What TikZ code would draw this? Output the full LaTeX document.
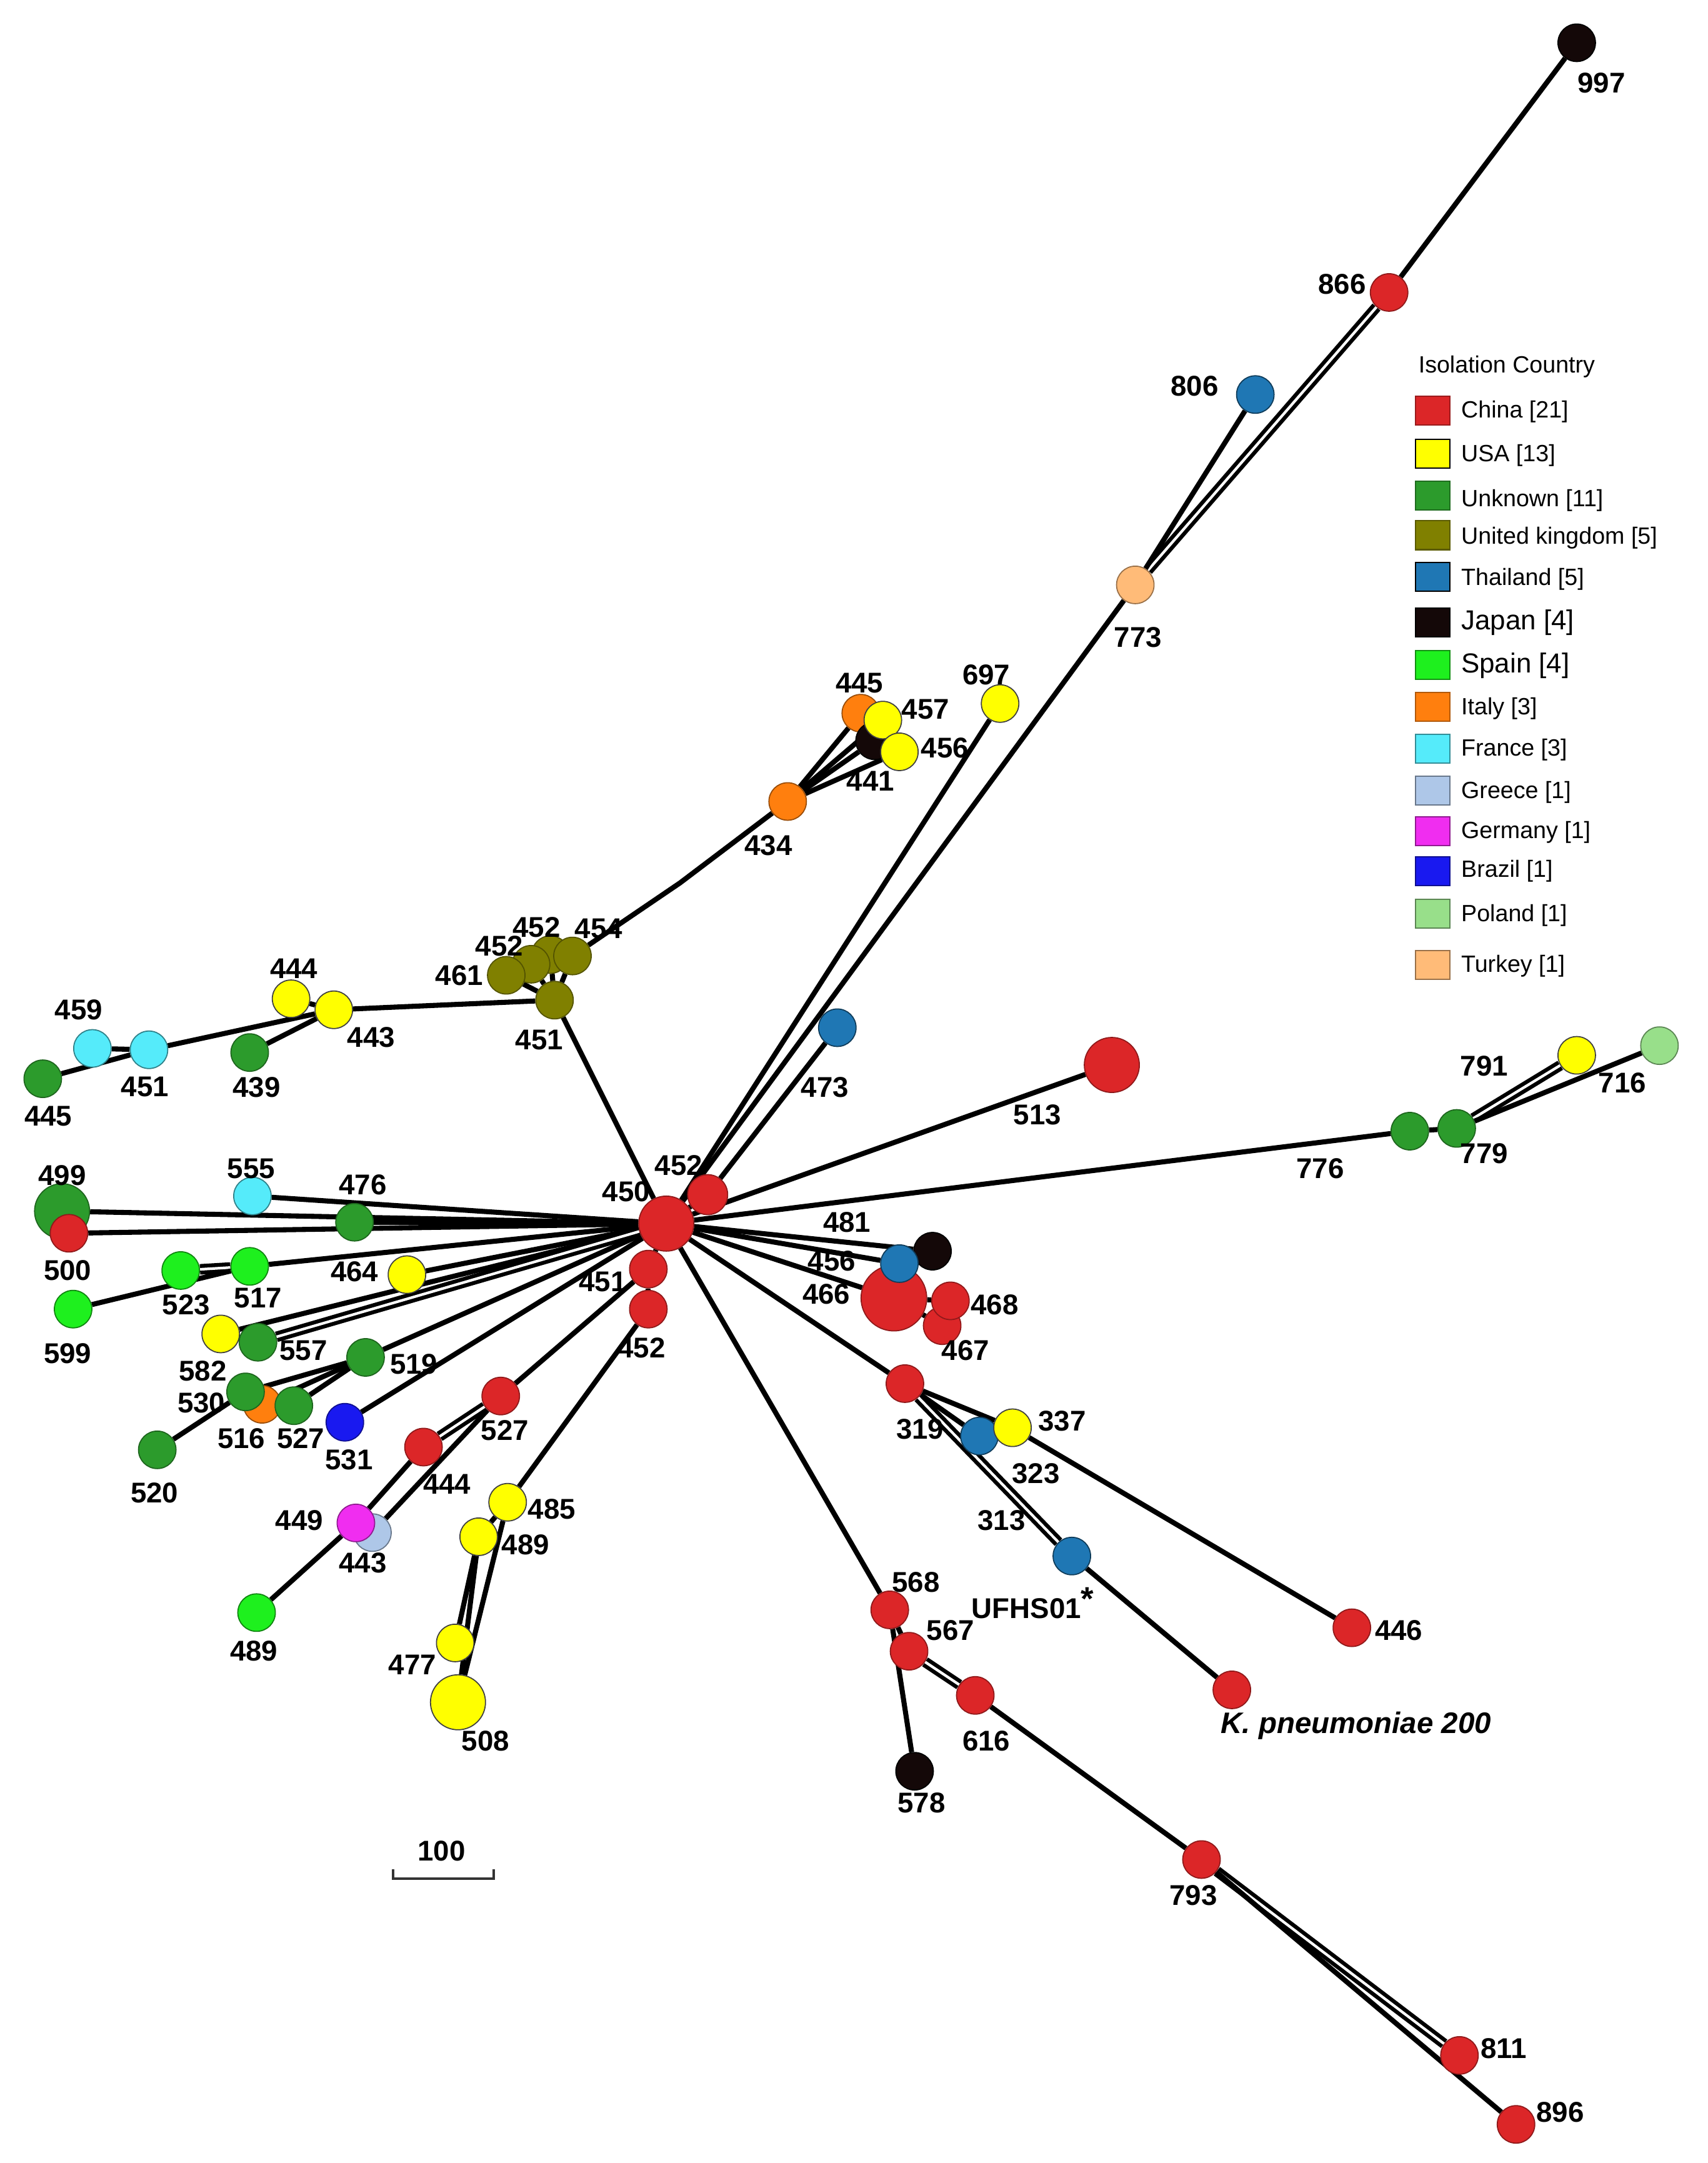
\documentclass[tikz,border=0pt]{standalone}
\usepackage{fontspec}
\setmainfont{Liberation Sans}
\usetikzlibrary{backgrounds}
\definecolor{cnred}{RGB}{220,38,40}
\definecolor{usay}{RGB}{255,255,0}
\definecolor{unkg}{RGB}{44,155,44}
\definecolor{ukol}{RGB}{128,128,0}
\definecolor{thb}{RGB}{31,119,180}
\definecolor{jpk}{RGB}{20,8,8}
\definecolor{esg}{RGB}{30,240,30}
\definecolor{ito}{RGB}{255,127,14}
\definecolor{frc}{RGB}{85,235,250}
\definecolor{grb}{RGB}{174,199,232}
\definecolor{dem}{RGB}{240,45,240}
\definecolor{brb}{RGB}{25,25,240}
\definecolor{plg}{RGB}{152,223,138}
\definecolor{trp}{RGB}{255,187,120}
\tikzset{
 nd/.style={circle, inner sep=0pt, minimum size=0.6cm, line width=0.5pt},
 bigN/.style={minimum size=0.88cm},
 midN/.style={minimum size=0.64cm},
 hugeN/.style={minimum size=1.05cm},
 cCN/.style={nd, fill=cnred, draw=cnred!65!black},
 cUS/.style={nd, fill=usay, draw=black!75},
 cUN/.style={nd, fill=unkg, draw=unkg!65!black},
 cUK/.style={nd, fill=ukol, draw=ukol!65!black},
 cTH/.style={nd, fill=thb, draw=thb!50!black},
 cJP/.style={nd, fill=jpk, draw=black},
 cES/.style={nd, fill=esg, draw=esg!55!black},
 cIT/.style={nd, fill=ito, draw=ito!60!black},
 cFR/.style={nd, fill=frc, draw=frc!55!black},
 cGR/.style={nd, fill=grb, draw=grb!60!black},
 cDE/.style={nd, fill=dem, draw=dem!60!black},
 cBR/.style={nd, fill=brb, draw=brb!60!black},
 cPL/.style={nd, fill=plg, draw=plg!60!black},
 cTR/.style={nd, fill=trp, draw=trp!60!black},
 lab/.style={inner sep=0pt, font=\fontsize{13}{15}\selectfont\bfseries},
 lnk/.style={line width=2.3pt, black},
 dbl/.style={line width=1.8pt, double=white, double distance=1.2pt},
 swatch/.style={rectangle, inner sep=0pt, minimum width=0.55cm, minimum height=0.46cm, line width=0.6pt},
 legt/.style={inner sep=0pt, anchor=west, font=\fontsize{10.7}{12}\selectfont},
 legbig/.style={inner sep=0pt, anchor=west, font=\fontsize{12.5}{14}\selectfont},
}
\begin{document}
\begin{tikzpicture}[x=0.022068cm, y=-0.022068cm]
\useasboundingbox (0,0) rectangle (1238,1568);
% ---------- nodes ----------
% top
\node[cJP] (n997) at (1143,31) {};
\node[cCN] (n866) at (1007,212) {};
\node[cTH] (n806) at (910,286) {};
\node[cTR] (n773) at (823,424) {};
% upper middle
\node[cUS] (n697) at (725,510) {};
\node[cIT] (n445o) at (624,517) {};
\node[cJP] (n441) at (634,537) {};
\node[cUS] (n457) at (640,522) {};
\node[cUS] (n456y) at (652,545) {};
\node[cIT] (n434) at (571,581) {};
% UK cluster
\node[cUK] (n452b) at (399,692) {};
\node[cUK] (n452a) at (385,699) {};
\node[cUK] (n454) at (415,693) {};
\node[cUK] (n461) at (367,707) {};
\node[cUK] (n451uk) at (402,725) {};
% left top
\node[cUS] (n444y) at (211,724) {};
\node[cUS] (n443y) at (242,732) {};
\node[cUN] (n439) at (181,763) {};
\node[cFR] (n459) at (67,760) {};
\node[cFR] (n451c) at (108,761) {};
\node[cUN] (n445g) at (31,782) {};
% right
\node[cTH] (n473) at (607,745) {};
\node[cCN, bigN] (n513) at (806,772) {};
\node[cUN] (n776) at (1022,820) {};
\node[cUN] (n779) at (1056,818) {};
\node[cUS] (n791) at (1143,765) {};
\node[cPL] (n716) at (1203,758) {};
% left middle
\node[cUN, bigN] (n499) at (45,878) {};
\node[cCN] (n500) at (50,894) {};
\node[cFR] (n555) at (183,867) {};
\node[cUN] (n476) at (257,886) {};
\node[cES] (n523) at (131,921) {};
\node[cES] (n517) at (181,918) {};
\node[cES] (n599) at (53,949) {};
\node[cUS] (n464) at (295,924) {};
\node[cUS] (n582) at (160,967) {};
\node[cUN] (n557) at (187,973) {};
\node[cUN] (n519) at (265,984) {};
\node[cIT] (n516) at (190,1018) {};
\node[cUN] (n530) at (178,1009) {};
\node[cUN] (n527g) at (213,1019) {};
\node[cUN] (n520) at (114,1051) {};
\node[cBR] (n531) at (250,1031) {};
\node[cCN] (n527r) at (363,1012) {};
\node[cCN] (n444r) at (307,1049) {};
\node[cGR] (n443lb) at (270,1111) {};
\node[cDE] (n449) at (258,1104) {};
\node[cES] (n489l) at (186,1169) {};
\node[cUS] (n485) at (368,1089) {};
\node[cUS] (n489y) at (347,1114) {};
\node[cUS] (n477) at (330,1191) {};
\node[cUS, bigN] (n508) at (332,1234) {};
% centre
\node[cCN, midN] (n452u) at (513,866) {};
\node[cCN] (n451) at (470,920) {};
\node[cCN] (n452l) at (470,949) {};
\node[cCN, bigN] (n450) at (483,887) {};
% right of centre
\node[cCN, hugeN] (n466) at (648,941) {};
\node[cCN] (n467) at (683,961) {};
\node[cCN] (n468) at (689,943) {};
\node[cJP] (n481) at (676,907) {};
\node[cTH] (n456b) at (652,916) {};
% lower right
\node[cCN] (n319) at (656,1003) {};
\node[cTH] (n323) at (710,1041) {};
\node[cUS] (n337) at (734,1035) {};
\node[cTH] (nufhs) at (777,1128) {};
\node[cCN] (n446) at (980,1180) {};
\node[cCN] (nkp) at (893,1225) {};
\node[cCN] (n568) at (645,1167) {};
\node[cCN] (n567) at (659,1197) {};
\node[cCN] (n616) at (707,1229) {};
\node[cJP] (n578) at (663,1284) {};
\node[cCN] (n793) at (871,1348) {};
\node[cCN] (n811) at (1058,1490) {};
\node[cCN] (n896) at (1099,1540) {};
\coordinate (kink) at (493,640);
% ---------- connectors ----------
\begin{pgfonlayer}{background}
\draw[lnk] (n997) -- (n866);
\draw[dbl] (n866) -- (n773);
\draw[lnk] (n806) -- (n773);
\draw[lnk] (n773) -- (n450);
\draw[lnk] (n697) -- (n450);
\draw[lnk] (n473) -- (n452u);
\draw[lnk] (n450) -- (n513);
\draw[lnk] (n450) -- (n776);
\draw[lnk] (n776) -- (n779);
\draw[dbl] (n779) -- (n791);
\draw[lnk] (n779) -- (n716);
\draw[lnk] (n434) -- (n445o);
\draw[lnk] (n434) -- (n457);
\draw[lnk] (n434) -- (n456y);
\draw[lnk] (n434) -- (n441);
\draw[lnk] (n434) -- (kink) -- (n454);
\draw[lnk] (n454) -- (n451uk);
\draw[lnk] (n452b) -- (n451uk);
\draw[lnk] (n452a) -- (n451uk);
\draw[lnk] (n461) -- (n451uk);
\draw[lnk] (n451uk) -- (n450);
\draw[lnk] (n451uk) -- (n443y);
\draw[lnk] (n443y) -- (n444y);
\draw[lnk] (n443y) -- (n439);
\draw[lnk] (n443y) -- (n451c);
\draw[lnk] (n451c) -- (n459);
\draw[lnk] (n451c) -- (n445g);
\draw[lnk] (n450) -- (n499);
\draw[lnk] (n450) -- (n500);
\draw[lnk] (n450) -- (n476);
\draw[lnk] (n450) -- (n555);
\draw[lnk] (n450) -- (n517);
\draw[dbl] (n517) -- (n523);
\draw[lnk] (n517) -- (n599);
\draw[lnk] (n450) -- (n464);
\draw[lnk] (n450) -- (n582);
\draw[dbl] (n450) -- (n557);
\draw[lnk] (n450) -- (n519);
\draw[lnk] (n519) -- (n530);
\draw[lnk] (n519) -- (n516);
\draw[lnk] (n519) -- (n527g);
\draw[lnk] (n530) -- (n520);
\draw[lnk] (n450) -- (n531);
\draw[lnk] (n450) -- (n452u);
\draw[lnk] (n450) -- (n451);
\draw[lnk] (n451) -- (n452l);
\draw[lnk] (n451) -- (n527r);
\draw[dbl] (n527r) -- (n444r);
\draw[lnk] (n527r) -- (n443lb);
\draw[lnk] (n444r) -- (n449);
\draw[lnk] (n449) -- (n489l);
\draw[lnk] (n452l) -- (n485);
\draw[lnk] (n485) -- (n489y);
\draw[lnk] (n489y) -- (n477);
\draw[lnk] (n489y) -- (n508);
\draw[lnk] (n485) -- (n508);
\draw[lnk] (n450) -- (n481);
\draw[lnk] (n450) -- (n456b);
\draw[lnk] (n450) -- (n466);
\draw[lnk] (n466) -- (n468);
\draw[lnk] (n466) -- (n467);
\draw[lnk] (n450) -- (n319);
\draw[lnk] (n319) -- (n337);
\draw[lnk] (n319) -- (n323);
\draw[dbl] (n319) -- (nufhs);
\draw[lnk] (n337) -- (n446);
\draw[lnk] (nufhs) -- (nkp);
\draw[lnk] (n450) -- (n568);
\draw[lnk] (n568) -- (n567);
\draw[dbl] (n567) -- (n616);
\draw[lnk] (n568) -- (n578);
\draw[lnk] (n616) -- (n793);
\draw[dbl] (n793) -- (n811);
\draw[lnk] (n793) -- (n896);
\end{pgfonlayer}
% ---------- labels ----------
\node[lab] (l997) at (1161,60) {997};
\node[lab] (l866) at (973,206) {866};
\node[lab] (l806) at (866,280) {806};
\node[lab] (l773) at (825,462) {773};
\node[lab] (l697) at (715,489) {697};
\node[lab] (l445o) at (623,495) {445};
\node[lab] (l457) at (671,514) {457};
\node[lab] (l456y) at (685,542) {456};
\node[lab] (l441) at (631,566) {441};
\node[lab] (l434) at (557,613) {434};
\node[lab] (l461) at (333,707) {461};
\node[lab] (l452a) at (362,686) {452};
\node[lab] (l452b) at (389,672) {452};
\node[lab] (l454) at (434,673) {454};
\node[lab] (l451uk) at (391,754) {451};
\node[lab] (l444y) at (213,702) {444};
\node[lab] (l443y) at (269,752) {443};
\node[lab] (l439) at (186,788) {439};
\node[lab] (l459) at (57,732) {459};
\node[lab] (l451c) at (105,788) {451};
\node[lab] (l445g) at (35,809) {445};
\node[lab] (l473) at (598,788) {473};
\node[lab] (l513) at (752,808) {513};
\node[lab] (l791) at (1076,773) {791};
\node[lab] (l716) at (1176,785) {716};
\node[lab] (l776) at (957,847) {776};
\node[lab] (l779) at (1076,836) {779};
\node[lab] (l499) at (45,852) {499};
\node[lab] (l500) at (49,921) {500};
\node[lab] (l555) at (182,847) {555};
\node[lab] (l476) at (263,859) {476};
\node[lab] (l450) at (454,864) {450};
\node[lab] (l452u) at (492,845) {452};
\node[lab] (l523) at (135,946) {523};
\node[lab] (l517) at (187,941) {517};
\node[lab] (l599) at (49,981) {599};
\node[lab] (l464) at (257,922) {464};
\node[lab] (l451) at (437,929) {451};
\node[lab] (l452l) at (465,977) {452};
\node[lab] (l582) at (147,994) {582};
\node[lab] (l557) at (220,979) {557};
\node[lab] (l519) at (300,989) {519};
\node[lab] (l530) at (146,1017) {530};
\node[lab] (l516) at (175,1043) {516};
\node[lab] (l527g) at (218,1043) {527};
\node[lab] (l520) at (112,1082) {520};
\node[lab] (l531) at (253,1058) {531};
\node[lab] (l527r) at (366,1037) {527};
\node[lab] (l444r) at (324,1076) {444};
\node[lab] (l449) at (217,1102) {449};
\node[lab] (l443lb) at (263,1133) {443};
\node[lab] (l485) at (400,1094) {485};
\node[lab] (l489y) at (381,1120) {489};
\node[lab] (l489l) at (184,1197) {489};
\node[lab] (l477) at (299,1207) {477};
\node[lab] (l508) at (352,1262) {508};
\node[lab] (l481) at (614,886) {481};
\node[lab] (l456b) at (603,914) {456};
\node[lab] (l466) at (599,938) {466};
\node[lab] (l468) at (721,946) {468};
\node[lab] (l467) at (700,979) {467};
\node[lab] (l319) at (667,1036) {319};
\node[lab] (l337) at (770,1030) {337};
\node[lab] (l323) at (751,1068) {323};
\node[lab] (l313) at (726,1102) {313};
\node[lab, anchor=west] (lufhs) at (704,1162) {UFHS01\raisebox{0.55ex}{\fontsize{15}{15}\selectfont *}};
\node[lab] (l446) at (1014,1182) {446};
\node[lab, font=\fontsize{13.5}{15}\selectfont\bfseries\itshape] (lkp) at (983,1251) {K. pneumoniae 200};
\node[lab] (l568) at (664,1147) {568};
\node[lab] (l567) at (689,1182) {567};
\node[lab] (l616) at (715,1262) {616};
\node[lab] (l578) at (668,1307) {578};
\node[lab] (l793) at (865,1374) {793};
\node[lab] (l811) at (1090,1485) {811};
\node[lab] (l896) at (1131,1531) {896};
% ---------- scale bar ----------
\node[lab] (l100) at (320,1342) {100};
\draw[line width=1.1pt, black!80] (285,1355) -- (285,1362) -- (358,1362) -- (358,1355);
% ---------- legend ----------
\node[legt] (ltitle) at (1028,266) {Isolation Country};
\node[swatch, fill=cnred, draw=cnred!70!black] (s1) at (1038.5,297.6) {};
\node[legt] (t1) at (1059,298.5) {China [21]};
\node[swatch, fill=usay, draw=black] (s2) at (1038.5,329) {};
\node[legt] (t2) at (1059,330) {USA [13]};
\node[swatch, fill=unkg, draw=unkg!70!black] (s3) at (1038.5,359.4) {};
\node[legt] (t3) at (1059,363) {Unknown [11]};
\node[swatch, fill=ukol, draw=ukol!70!black] (s4) at (1038.5,388) {};
\node[legt] (t4) at (1059,390) {United kingdom [5]};
\node[swatch, fill=thb, draw=black] (s5) at (1038.5,418) {};
\node[legt] (t5) at (1059,420) {Thailand [5]};
\node[swatch, fill=jpk, draw=black] (s6) at (1038.5,451.3) {};
\node[legbig] (t6) at (1059,451.5) {Japan [4]};
\node[swatch, fill=esg, draw=esg!60!black] (s7) at (1038.5,482) {};
\node[legbig] (t7) at (1059,482.5) {Spain [4]};
\node[swatch, fill=ito, draw=ito!70!black] (s8) at (1038.5,512.5) {};
\node[legt] (t8) at (1059,513.5) {Italy [3]};
\node[swatch, fill=frc, draw=frc!60!black] (s9) at (1038.5,542.8) {};
\node[legt] (t9) at (1059,543.5) {France [3]};
\node[swatch, fill=grb, draw=grb!60!black] (s10) at (1038.5,573) {};
\node[legt] (t10) at (1059,574.5) {Greece [1]};
\node[swatch, fill=dem, draw=dem!60!black] (s11) at (1038.5,602.6) {};
\node[legt] (t11) at (1059,603.5) {Germany [1]};
\node[swatch, fill=brb, draw=brb!60!black] (s12) at (1038.5,631.6) {};
\node[legt] (t12) at (1059,631.5) {Brazil [1]};
\node[swatch, fill=plg, draw=plg!60!black] (s13) at (1038.5,662.5) {};
\node[legt] (t13) at (1059,663.5) {Poland [1]};
\node[swatch, fill=trp, draw=trp!60!black] (s14) at (1038.5,699.6) {};
\node[legt] (t14) at (1059,700.5) {Turkey [1]};
\end{tikzpicture}
\end{document}
